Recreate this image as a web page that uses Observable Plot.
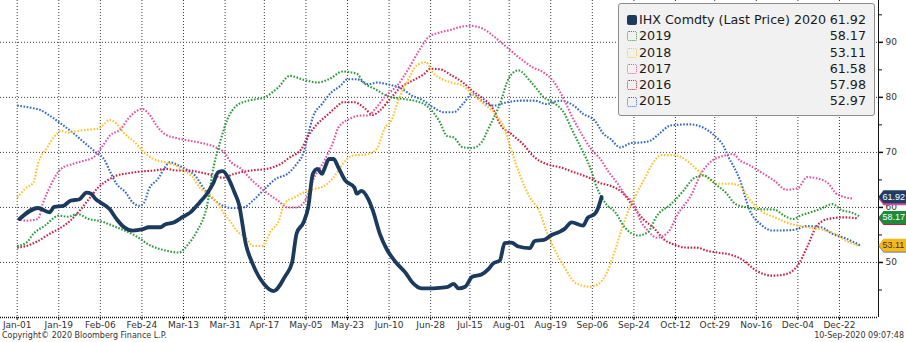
<!DOCTYPE html>
<html><head><meta charset="utf-8">
<script src="https://cdn.jsdelivr.net/npm/d3@7"></script>
<script src="https://cdn.jsdelivr.net/npm/@observablehq/plot@0.6"></script>
<style>
body{margin:0;background:#fff;}
#wrap{position:relative;width:906px;height:342px;overflow:hidden;font-family:"DejaVu Sans",sans-serif;}
#legend{position:absolute;left:618px;top:3px;width:257px;height:113px;background:#f1f1f1;border:1px solid #8c8c8c;border-radius:3px;box-sizing:border-box;padding:8px 8px 0 8px;font-size:12.7px;color:#1a1a1a;}
.row{height:16.3px;line-height:16.3px;display:flex;align-items:center;white-space:nowrap;}
.sw{width:10px;height:10px;margin-right:2px;box-sizing:border-box;flex:none;border-radius:2px;}
.name{flex:1;}
.val{text-align:right;}
#footer{position:absolute;left:0;top:330px;width:906px;height:12px;font-size:8px;color:#333;line-height:12px;}
#footer .l{position:absolute;left:2px;}
#footer .r{position:absolute;right:2px;}
</style>
</head><body>
<div id="wrap"><div id="chart"></div><div id="legend"></div>
<div id="footer"><span class="l">Copyright© 2020 Bloomberg Finance L.P.</span><span class="r">10-Sep-2020 09:07:48</span></div></div>
<script>
// ---- data (day = days since Jan-01, value = price) ----
const seriesNames = ["2020","2019","2018","2017","2016","2015"];
const seriesColors = ["#1b3a5e","#2a9a3a","#ffc22e","#e2549f","#cc1f42","#3368c2"];
const lastValues = [61.92, 58.17, 53.11, 61.58, 57.98, 52.97];
const tagFills = ["#1f3d63","#1c8c3a","#f6b81e","#d04a95","#c02040","#2e5fb0"];
const tagText = ["#ffffff","#ffffff","#4a3000","#ffffff","#ffffff","#ffffff"];
const legendTitle = "IHX Comdty (Last Price) 2020";
const xTicks = ["2020-01-01","2020-01-19","2020-02-06","2020-02-24","2020-03-13","2020-03-31","2020-04-17","2020-05-05","2020-05-23","2020-06-10","2020-06-28","2020-07-15","2020-08-01","2020-08-19","2020-09-06","2020-09-24","2020-10-12","2020-10-29","2020-11-16","2020-12-04","2020-12-22"];
const yTicks = [50,60,70,80,90];
const yMinorTicks = [45,55,65,75,85,95];

const s2020 = [[1,57.9],[9,59.9],[14,59.1],[16,60.1],[20,60.3],[23,61.2],[27,61.5],[30,62.7],[32,62.5],[34,61.5],[36,60.9],[40,59.7],[43,57.9],[46,56.5],[50,55.8],[54,56.0],[57,56.4],[62,56.4],[64,56.9],[68,57.3],[71,58.1],[75,59.1],[79,60.9],[82,62.4],[85,64.5],[87,66.4],[89,66.6],[92,64.8],[94,62.8],[96,60.6],[99,53.3],[102,49.7],[107,46.0],[111,44.8],[116,47.5],[119,50],[121,55.3],[124,57.3],[126,60],[128,66.1],[130,67],[132,66.1],[133,67],[135,68.8],[137,68.8],[139,67.3],[142,64.9],[146,63.6],[147,62.5],[149,63.0],[152,61.5],[154,59.4],[157,55.2],[160,52.4],[164,50],[168,48.2],[171,46.4],[175,45.3],[180,45.3],[186,45.5],[189,46.1],[191,45.3],[194,45.6],[197,47.4],[201,47.8],[204,48.8],[206,49.8],[209,50.4],[211,53.5],[214,53.6],[217,52.9],[222,52.6],[224,53.9],[228,54.1],[231,54.9],[235,55.6],[237,56.1],[240,57.3],[245,56.7],[247,58.1],[250,58.8],[251,59.4],[253,61.9]];
const s2019 = [[0,53.0],[4,53.6],[7,55.2],[12,56.7],[18,58.5],[22,58.3],[26,58.8],[31,57.9],[36,57.5],[43,56.4],[51,54.9],[58,53.0],[65,52.1],[70,51.8],[74,53.3],[78,55.8],[82,60],[85,67.3],[88,72.1],[91,76],[95,78.5],[100,79.4],[107,80],[113,81.8],[118,83.9],[124,83.2],[130,82.7],[135,83.3],[141,84.7],[147,84.3],[150,82.7],[155,81.5],[160,80.3],[167,79.7],[172,79.4],[178,78.2],[183,75.5],[186,73],[189,72.7],[193,70.9],[197,70.8],[201,71.8],[204,74.3],[209,78.8],[213,83.6],[217,84.9],[222,83.0],[225,81.5],[228,80],[232,79.1],[237,77],[240,74.3],[244,70.9],[248,67.3],[251,63.6],[255,60.6],[259,59.1],[263,56.4],[269,54.9],[273,55.5],[277,58.5],[283,60.6],[288,62.8],[293,65.3],[297,65.8],[303,64],[307,62.6],[311,60.6],[316,60],[321,59.7],[328,59.6],[332,58.5],[336,57.9],[339,58.5],[345,59.3],[348,59.8],[353,60.6],[357,59.5],[361,59.1],[365,58.3]];
const s2018 = [[0,61.8],[4,63.6],[7,64.5],[9,67.9],[13,70.9],[17,73.3],[19,73.9],[22,73.6],[26,73.9],[30,74.1],[35,74.3],[38,75.3],[40,75.9],[43,75.2],[46,73.6],[51,71.8],[55,70],[59,68.8],[64,68.2],[68,67.7],[72,66.7],[76,65.5],[79,63.6],[83,62.4],[87,60.6],[90,58.6],[92,57.6],[95,55.8],[99,54.5],[102,53.0],[106,53.0],[110,55.8],[113,57.3],[116,60.9],[120,61.8],[124,62.7],[128,63.3],[133,63.9],[137,65.5],[141,67.9],[145,69.4],[152,69.7],[156,70.9],[159,74.3],[162,75.8],[165,79.4],[169,83],[173,85.8],[177,86.4],[180,84.5],[184,83.3],[188,82.7],[193,82.1],[197,80.6],[202,78.8],[207,77],[211,74.3],[214,70.3],[218,65.5],[222,61.8],[226,59.4],[229,55.8],[233,52.1],[237,49.1],[242,46.2],[248,45.6],[252,46.2],[255,47.9],[259,52.4],[262,56.4],[265,59.8],[268,62.4],[272,65.5],[275,67.9],[279,69.5],[284,69.5],[290,68.5],[294,67],[299,65.3],[303,64.3],[309,64.3],[313,63.9],[317,61.5],[322,59.4],[328,58.2],[335,57],[342,56.4],[348,56],[354,55.2],[359,53.9],[364,53.1]];
const s2017 = [[0,57.9],[4,57.6],[9,57.9],[11,60.6],[14,63.6],[19,67],[24,67.9],[29,68.5],[33,69.1],[37,71.2],[40,73],[45,74.3],[48,76.1],[52,77.6],[54,77.9],[57,77],[61,74.5],[64,73.3],[69,72.6],[75,72.1],[81,71.6],[86,70.9],[90,69.8],[92,68.5],[97,67],[101,65.2],[107,63],[113,61.2],[117,60],[121,60],[125,61.5],[128,64.9],[133,68.5],[137,72.1],[139,74.5],[144,76.1],[149,76.7],[152,76.7],[155,77.9],[159,80],[165,82.4],[169,84.9],[174,88.5],[178,90.9],[183,91.8],[188,92.3],[191,92.7],[196,93],[202,92.4],[206,91.2],[212,89.1],[218,87],[223,85.5],[228,84.5],[232,83],[237,79.4],[240,76.7],[244,73.6],[248,70.9],[253,68.5],[256,66.5],[260,64.3],[263,62.4],[267,60.6],[270,57.5],[273,55.8],[277,54.5],[282,55.6],[286,58.8],[292,62.4],[296,66.1],[300,68.2],[306,69.4],[310,69.7],[313,68.5],[316,67.9],[322,66.4],[328,64.8],[333,63.2],[338,63.5],[342,65.5],[346,65.3],[351,64.4],[355,62.4],[362,61.6]];
const s2016 = [[0,52.7],[4,53],[9,53.9],[14,55.2],[18,56.1],[23,57.6],[27,59.4],[31,61.5],[35,63.6],[39,64.9],[43,65.8],[48,66.2],[53,66.5],[59,66.7],[65,67],[69,66.7],[74,66.7],[79,66.4],[85,65.8],[89,65.4],[94,66.1],[101,66.7],[108,67],[114,67.9],[118,69.1],[123,70.6],[126,73],[130,75.2],[134,76.7],[138,78.2],[141,79.1],[146,79.1],[150,78.2],[154,76.8],[157,77.6],[162,80],[166,81.8],[171,83],[176,84.2],[179,85.2],[183,85.1],[188,84],[193,82.7],[197,81.2],[201,80],[206,77.9],[209,75.2],[214,73.3],[219,71.5],[224,69.1],[229,67.9],[235,67.3],[241,66.4],[247,65.5],[252,64.5],[257,63.9],[262,62.7],[267,60],[271,57.9],[276,56.1],[280,54.2],[284,53.3],[290,52.7],[294,52.7],[299,52.1],[303,51.8],[309,51.4],[314,50.5],[320,48.5],[327,47.6],[333,47.9],[338,49.5],[342,52.8],[346,56.5],[351,57.9],[358,58.2],[364,58.0]];
const s2015 = [[0,78.5],[6,78.1],[10,77.7],[14,76.7],[19,75.2],[24,73.6],[29,71.8],[34,70],[38,68.5],[40,66.7],[43,64.3],[47,62.7],[50,60.9],[53,60.3],[55,60.9],[57,63.3],[61,65.2],[64,67.3],[66,68.2],[70,67.6],[74,66.7],[77,65.8],[81,63.3],[85,61.5],[89,60.3],[93,59.9],[98,60],[102,61.2],[107,63.3],[112,65.2],[117,66.1],[121,67.9],[124,70],[126,73.3],[128,76.4],[132,78.8],[136,80.9],[140,82.1],[143,83.3],[147,83.3],[152,82.4],[156,82.7],[160,82.4],[166,81.7],[171,80.3],[176,79.4],[180,78.2],[185,77.3],[189,77.3],[193,78.8],[197,80.6],[201,79.4],[206,78.5],[212,79.1],[218,79.4],[224,79.4],[229,78.8],[235,79.4],[241,78.5],[245,77],[250,75.8],[254,73.3],[257,72.4],[261,70.9],[266,71.7],[270,71.8],[274,72.1],[278,73.4],[283,74.9],[291,75.1],[297,74.5],[302,73],[306,71],[308,69.1],[310,67.6],[313,64.9],[317,59.6],[322,56.9],[327,55.8],[336,55.9],[342,56.6],[348,56.4],[353,55.2],[359,54.3],[365,53.1]];
const seriesData = [s2020, s2019, s2018, s2017, s2016, s2015];

// ---- build ----
const T0 = Date.UTC(2020, 0, 1), DAY = 864e5;
const toDate = d => new Date(T0 + d * DAY);
const xStart = toDate(-7.23), xEnd = toDate(372.9);
const tickDates = xTicks.map(s => new Date(s + "T00:00:00Z"));
const lines = seriesNames.map((n, i) => seriesData[i].map(([d, v]) => ({year: n, date: toDate(d), value: v})));

const tagSymbol = {draw(ctx) {
  ctx.moveTo(0, 0); ctx.lineTo(5, -6.5); ctx.lineTo(42, -6.5); ctx.lineTo(42, 6.5); ctx.lineTo(5, 6.5); ctx.closePath();
}};

const marks = [
  Plot.gridX(tickDates, {stroke: "#3a3a3a", strokeOpacity: 1, strokeDasharray: "1,2"}),
  Plot.gridY(yTicks, {stroke: "#3a3a3a", strokeOpacity: 1, strokeDasharray: "1,2"})
];
// dotted past years (draw 2015 first)
for (let i = 5; i >= 1; i--) {
  marks.push(Plot.line(lines[i], {x: "date", y: "value", stroke: seriesColors[i], strokeWidth: 2.1, strokeDasharray: "1.6,1.6", strokeLinecap: "butt", curve: "monotone-x"}));
}
marks.push(Plot.line(lines[0], {x: "date", y: "value", stroke: seriesColors[0], strokeWidth: 3.8, strokeLinejoin: "round", strokeLinecap: "round", curve: "monotone-x"}));
marks.push(
  Plot.ruleY([40], {stroke: "#111", strokeWidth: 1.3, strokeDasharray: "1,1"}),
  Plot.ruleX([xEnd], {stroke: "#111", strokeWidth: 1}),
  Plot.axisX(tickDates, {tickFormat: d3.utcFormat("%b-%d"), tickSize: 3, tickPadding: 1, stroke: "#111", fill: "#333", label: null}),
  Plot.axisY(yMinorTicks, {anchor: "right", tickSize: 3, tickFormat: () => "", stroke: "#111", label: null}),
  Plot.axisY(yTicks, {anchor: "right", tickSize: 4, tickPadding: 3, stroke: "#111", strokeWidth: 1.5, fill: "#333", tickFormat: d => d, label: null})
);
// value tags (hidden ones first)
for (let i = 5; i >= 0; i--) {
  const t = [{date: xEnd, value: lastValues[i]}];
  marks.push(Plot.dot(t, {x: "date", y: "value", symbol: tagSymbol, fill: tagFills[i], stroke: "none", r: 6}));
  marks.push(Plot.text(t, {x: "date", y: "value", text: d => d.value.toFixed(2), dx: 4, textAnchor: "start", fill: tagText[i], fontSize: 9, fontFamily: "Liberation Sans"}));
}

const chart = Plot.plot({
  width: 906, height: 330,
  marginLeft: 0, marginRight: 28, marginTop: 0, marginBottom: 13,
  x: {type: "utc", domain: [xStart, xEnd], label: null},
  y: {domain: [40, 97.6], label: null},
  style: {fontFamily: "DejaVu Sans", fontSize: "9px", color: "#333", background: "#fff", overflow: "visible"},
  marks
});
document.getElementById("chart").appendChild(chart);

// legend
const lg = document.getElementById("legend");
seriesNames.forEach((n, i) => {
  const row = document.createElement("div"); row.className = "row";
  const sw = document.createElement("span"); sw.className = "sw";
  if (i === 0) sw.style.background = seriesColors[0];
  else sw.style.border = "1.5px dotted " + seriesColors[i];
  const nm = document.createElement("span"); nm.className = "name"; nm.textContent = i === 0 ? legendTitle : n;
  const vl = document.createElement("span"); vl.className = "val"; vl.textContent = lastValues[i].toFixed(2);
  row.append(sw, nm, vl); lg.appendChild(row);
});
</script>
</body></html>
